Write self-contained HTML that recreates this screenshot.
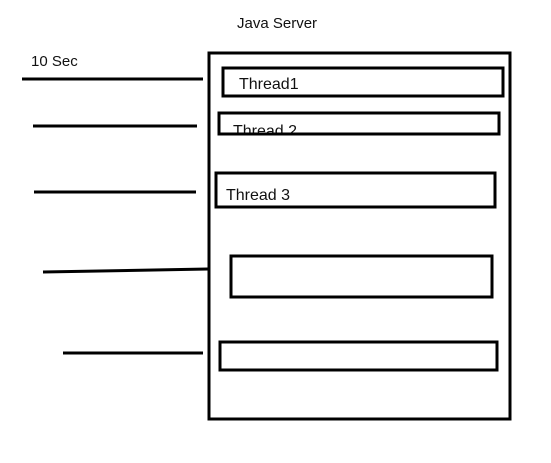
<!DOCTYPE html>
<html><head><meta charset="utf-8"><style>
html,body{margin:0;padding:0;background:#fff;width:551px;height:463px;overflow:hidden}
svg{display:block}
text{font-family:"Liberation Sans",sans-serif;fill:#111}
</style></head><body>
<svg width="551" height="463" viewBox="0 0 551 463" xmlns="http://www.w3.org/2000/svg">
<text x="237" y="28" font-size="15">Java Server</text>
<text x="31" y="66" font-size="15">10 Sec</text>
<g stroke="#000" stroke-width="3" fill="none">
<line x1="22" y1="79" x2="203" y2="79"/>
<line x1="33" y1="126" x2="197" y2="126"/>
<line x1="34" y1="192" x2="196" y2="192"/>
<line x1="43" y1="272" x2="208" y2="269"/>
<line x1="63" y1="353" x2="203" y2="353"/>
</g>
<text x="239" y="89" font-size="16">Thread1</text>
<text x="233" y="136" font-size="16">Thread 2</text>
<text x="226" y="200" font-size="16">Thread 3</text>
<rect x="212" y="135.5" width="295" height="10" fill="#fff"/>
<g stroke="#000" stroke-width="3" fill="none">
<rect x="209" y="53" width="301" height="366"/>
<rect x="223" y="68" width="280" height="28"/>
<rect x="219" y="113" width="280" height="21"/>
<rect x="216" y="173" width="279" height="34"/>
<rect x="231" y="256" width="261" height="41"/>
<rect x="220" y="342" width="277" height="28"/>
</g>
</svg>
</body></html>
